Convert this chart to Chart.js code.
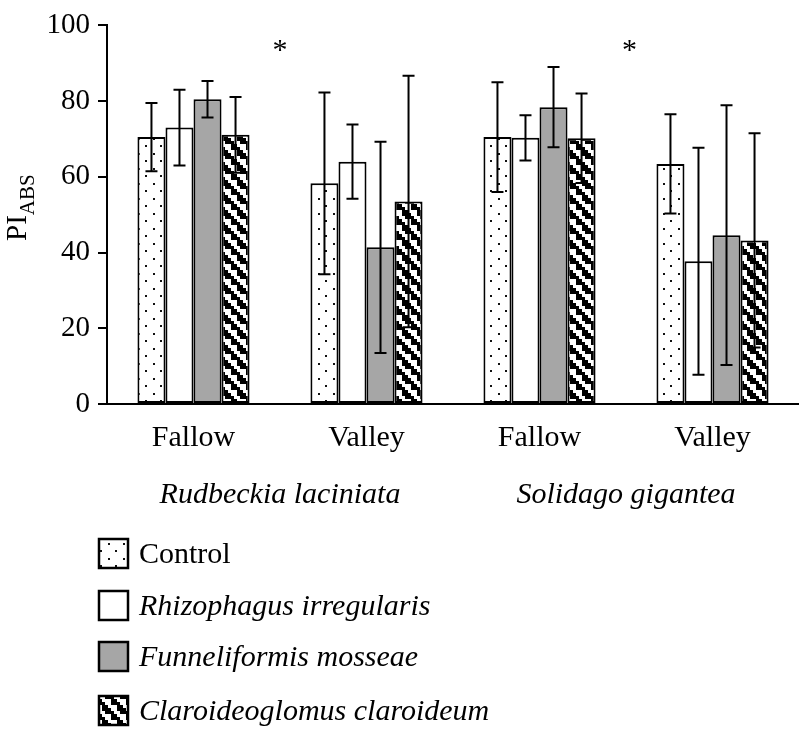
<!DOCTYPE html>
<html>
<head>
<meta charset="utf-8">
<script src="https://cdn.jsdelivr.net/npm/chart.js@4.4.1/dist/chart.umd.min.js"></script>
<style>
  html, body { margin: 0; padding: 0; background: #fff; }
  #wrap { width: 799px; height: 738px; }
</style>
</head>
<body>
<div id="wrap"><canvas id="piChart"></canvas></div>
<script>
// Data
const sites = ["Fallow", "Valley", "Fallow", "Valley"];
const species = ["Rudbeckia laciniata", "Solidago gigantea"];
const treatments = ["Control", "Rhizophagus irregularis", "Funneliformis mosseae", "Claroideoglomus claroideum"];
const yTicks = [0, 20, 40, 60, 80, 100];

const controlVals = [70.5, 58.3, 70.5, 63.4];
const controlErr = [9.0, 24.0, 14.5, 13.1];
const rhizoVals = [73.0, 64.0, 70.3, 37.7];
const rhizoErr = [10.0, 9.8, 6.0, 30.0];
const funnelVals = [80.5, 41.4, 78.4, 44.6];
const funnelErr = [4.8, 27.9, 10.6, 34.3];
const claroVals = [71.1, 53.5, 70.2, 43.2];
const claroErr = [10.0, 33.2, 11.8, 28.3];

// significance marks: between site groups, at this height
const starPos = [0.5, 2.52];
const starLevel = 93;

const FONT = "'Liberation Serif', 'DejaVu Serif', serif";

// Fill patterns
function dotPattern() {
  const c = document.createElement("canvas");
  c.width = 15; c.height = 15;
  const g = c.getContext("2d");
  g.fillStyle = "#fff";
  g.fillRect(0, 0, 15, 15);
  g.fillStyle = "#111";
  g.fillRect(3, 3, 2, 2);
  g.fillRect(10, 10, 2, 2);
  return g.createPattern(c, "repeat");
}

function stairPattern() {
  const c = document.createElement("canvas");
  c.width = 15; c.height = 15;
  const g = c.getContext("2d");
  g.fillStyle = "#fff";
  g.fillRect(0, 0, 15, 15);
  g.fillStyle = "#000";
  for (let qx = 0; qx < 5; qx++) {
    for (let qy = 0; qy < 5; qy++) {
      const d = ((qy - qx) % 5 + 5) % 5;
      if (d < 2 || (d === 2 && qx % 2 === 0)) g.fillRect(qx * 3, qy * 3, 3, 3);
    }
  }
  return g.createPattern(c, "repeat");
}

const fills = [dotPattern(), "#ffffff", "#a6a6a6", stairPattern()];
const allVals = [controlVals, rhizoVals, funnelVals, claroVals];
const allErr = [controlErr, rhizoErr, funnelErr, claroErr];

const datasets = treatments.map((name, i) => ({
  label: name,
  data: allVals[i],
  errors: allErr[i],
  backgroundColor: fills[i],
  borderColor: "#000",
  borderWidth: 2,
  borderSkipped: false,
  categoryPercentage: 0.648,
  barPercentage: 1.0
}));

// error bars on top of every bar
const errorBars = {
  id: "errorBars",
  afterDatasetsDraw(chart) {
    const ctx = chart.ctx;
    const y = chart.scales.y;
    ctx.save();
    ctx.strokeStyle = "#000";
    ctx.lineWidth = 2;
    chart.data.datasets.forEach((ds, di) => {
      const meta = chart.getDatasetMeta(di);
      meta.data.forEach((bar, i) => {
        const v = ds.data[i], e = ds.errors[i];
        const top = y.getPixelForValue(v + e);
        const bot = y.getPixelForValue(v - e);
        const cap = 6;
        ctx.beginPath();
        ctx.moveTo(bar.x, top); ctx.lineTo(bar.x, bot);
        ctx.moveTo(bar.x - cap, top); ctx.lineTo(bar.x + cap, top);
        ctx.moveTo(bar.x - cap, bot); ctx.lineTo(bar.x + cap, bot);
        ctx.stroke();
      });
    });
    ctx.restore();
  }
};

// axis title, species names, asterisks and legend
const extras = {
  id: "extras",
  afterDraw(chart) {
    const ctx = chart.ctx;
    const xs = chart.scales.x, ys = chart.scales.y;
    ctx.save();
    ctx.fillStyle = "#000";

    // y title PI_ABS
    ctx.save();
    ctx.translate(26, 241);
    ctx.rotate(-Math.PI / 2);
    ctx.font = "29px " + FONT;
    ctx.textAlign = "left";
    ctx.textBaseline = "alphabetic";
    ctx.fillText("PI", 0, 0);
    const w = ctx.measureText("PI").width;
    ctx.font = "21px " + FONT;
    ctx.fillText("ABS", w, 8);
    ctx.restore();

    // asterisks
    ctx.font = "30px " + FONT;
    ctx.textAlign = "center";
    ctx.textBaseline = "middle";
    starPos.forEach(p => {
      ctx.fillText("*", xs.getPixelForValue(p), ys.getPixelForValue(starLevel) - 1);
    });

    // species names
    ctx.font = "italic 30px " + FONT;
    ctx.textBaseline = "alphabetic";
    species.forEach((s, i) => {
      ctx.fillText(s, xs.getPixelForValue(i * 2 + 0.5), 503);
    });

    // legend
    const rowY = [553, 605, 656, 710];
    treatments.forEach((name, i) => {
      const cy = rowY[i];
      ctx.fillStyle = fills[i];
      ctx.fillRect(99, cy - 14, 29, 29);
      ctx.strokeStyle = "#000";
      ctx.lineWidth = 2.5;
      ctx.strokeRect(99, cy - 14, 29, 29);
      ctx.fillStyle = "#000";
      ctx.textAlign = "left";
      ctx.font = (i === 0 ? "" : "italic ") + "30px " + FONT;
      ctx.fillText(name, 139, cy + 10);
    });
    ctx.restore();
  }
};

new Chart(document.getElementById("piChart"), {
  type: "bar",
  data: { labels: sites, datasets: datasets },
  options: {
    responsive: true,
    maintainAspectRatio: false,
    animation: false,
    devicePixelRatio: 1,
    layout: { padding: { top: 16, right: 0, left: 0, bottom: 274 } },
    plugins: {
      legend: { display: false },
      tooltip: { enabled: false }
    },
    scales: {
      x: {
        grid: { display: false },
        border: { display: true, color: "#000", width: 2 },
        ticks: { color: "#000", font: { family: FONT, size: 30 }, padding: 8, maxRotation: 0 },
        afterFit(axis) { axis.height = 60; }
      },
      y: {
        min: 0,
        max: 100,
        afterBuildTicks(axis) { axis.ticks = yTicks.map(v => ({ value: v })); },
        grid: { drawOnChartArea: false, drawTicks: true, tickLength: 9, color: "#000", lineWidth: 2 },
        border: { display: true, color: "#000", width: 2 },
        ticks: { color: "#000", font: { family: FONT, size: 29 }, padding: 8 },
        afterFit(axis) { axis.width = 107; }
      }
    }
  },
  plugins: [errorBars, extras]
});
</script>
</body>
</html>
